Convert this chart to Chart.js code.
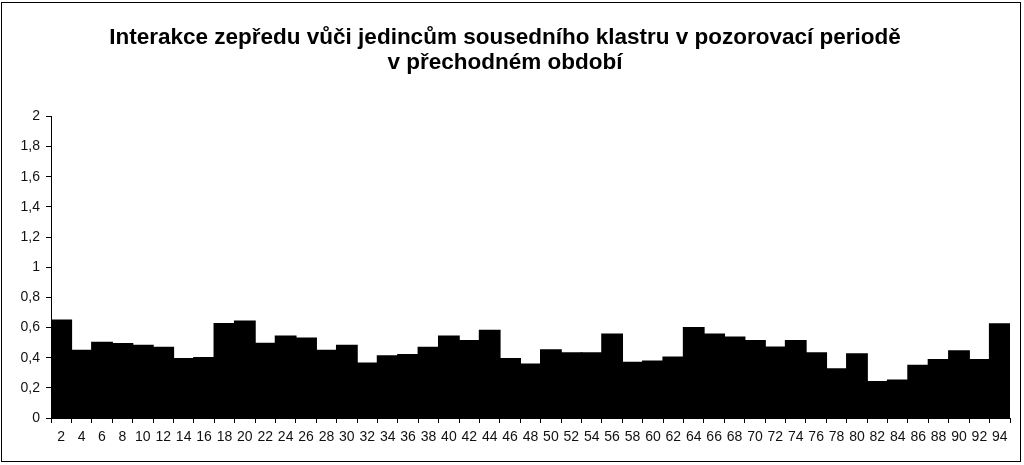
<!DOCTYPE html>
<html>
<head>
<meta charset="utf-8">
<script src="https://cdn.jsdelivr.net/npm/chart.js@4"></script>
<style>
  html, body { margin: 0; padding: 0; background: #fff; }
  #wrap { width: 1024px; height: 465px; position: relative; }
</style>
</head>
<body>
<div id="wrap"><canvas id="chart"></canvas></div>
<script>
// kategorie (pozorovací období) a hodnoty interakcí
const categories = [2, 4, 6, 8, 10, 12, 14, 16, 18, 20, 22, 24, 26, 28, 30, 32, 34, 36, 38, 40,
    42, 44, 46, 48, 50, 52, 54, 56, 58, 60, 62, 64, 66, 68, 70, 72, 74, 76, 78, 80,
    82, 84, 86, 88, 90, 92, 94];
const values = [0.648, 0.448, 0.501, 0.492, 0.481, 0.468, 0.393, 0.400, 0.626, 0.642,
    0.495, 0.543, 0.530, 0.448, 0.481, 0.363, 0.411, 0.420, 0.468, 0.543,
    0.512, 0.580, 0.393, 0.356, 0.451, 0.431, 0.431, 0.556, 0.369, 0.376,
    0.404, 0.598, 0.556, 0.536, 0.512, 0.470, 0.512, 0.431, 0.325, 0.424,
    0.240, 0.251, 0.349, 0.387, 0.444, 0.387, 0.624];
const titleLines = ['Interakce zepředu vůči jedincům sousedního klastru v pozorovací periodě', 'v přechodném období'];

// rámeček kolem celého grafu
const framePlugin = {
    id: 'frame',
    beforeDraw(chart) {
        const ctx = chart.ctx;
        ctx.save();
        ctx.fillStyle = '#fff';
        ctx.fillRect(0, 0, chart.width, chart.height);
        ctx.restore();
    },
    afterDraw(chart) {
        const ctx = chart.ctx;
        ctx.save();
        ctx.strokeStyle = '#000';
        ctx.lineWidth = 1;
        ctx.strokeRect(1.5, 2.5, 1019, 459);
        ctx.restore();
    }
};

const ctx = document.getElementById('chart').getContext('2d');
new Chart(ctx, {
    type: 'bar',
    data: {
        labels: categories,
        datasets: [{
            data: values,
            backgroundColor: '#000',
            borderWidth: 0,
            inflateAmount: 0.7,
            categoryPercentage: 1.0,
            barPercentage: 1.0
        }]
    },
    options: {
        responsive: true,
        maintainAspectRatio: false,
        animation: false,
        layout: { padding: { top: 25, right: 14, left: 0, bottom: 0 } },
        plugins: {
            legend: { display: false },
            tooltip: { enabled: false },
            title: {
                display: true,
                text: titleLines,
                color: '#000',
                font: { family: '"Liberation Sans", Arial, sans-serif', size: 22.5, weight: 'bold', lineHeight: 1.12 },
                padding: { top: 0, bottom: 41 }
            }
        },
        scales: {
            x: {
                grid: { display: true, drawOnChartArea: false, offset: true, color: '#000', tickLength: 5, tickColor: '#000' },
                border: { display: true, color: '#000', width: 1 },
                ticks: {
                    color: '#111',
                    autoSkip: false,
                    maxRotation: 0,
                    padding: 6,
                    font: { family: '"Liberation Sans", Arial, sans-serif', size: 14 }
                },
                afterFit(scale) { scale.height = 47; }
            },
            y: {
                min: 0,
                max: 2,
                grid: { display: true, drawOnChartArea: false, color: '#000', tickLength: 5, tickColor: '#000' },
                border: { display: true, color: '#000', width: 1 },
                ticks: {
                    stepSize: 0.2,
                    color: '#111',
                    padding: 6,
                    font: { family: '"Liberation Sans", Arial, sans-serif', size: 14 },
                    callback: v => String(Math.round(v * 10) / 10).replace('.', ',')
                },
                afterFit(scale) { scale.width = 51; }
            }
        }
    },
    plugins: [framePlugin]
});
</script>
</body>
</html>
